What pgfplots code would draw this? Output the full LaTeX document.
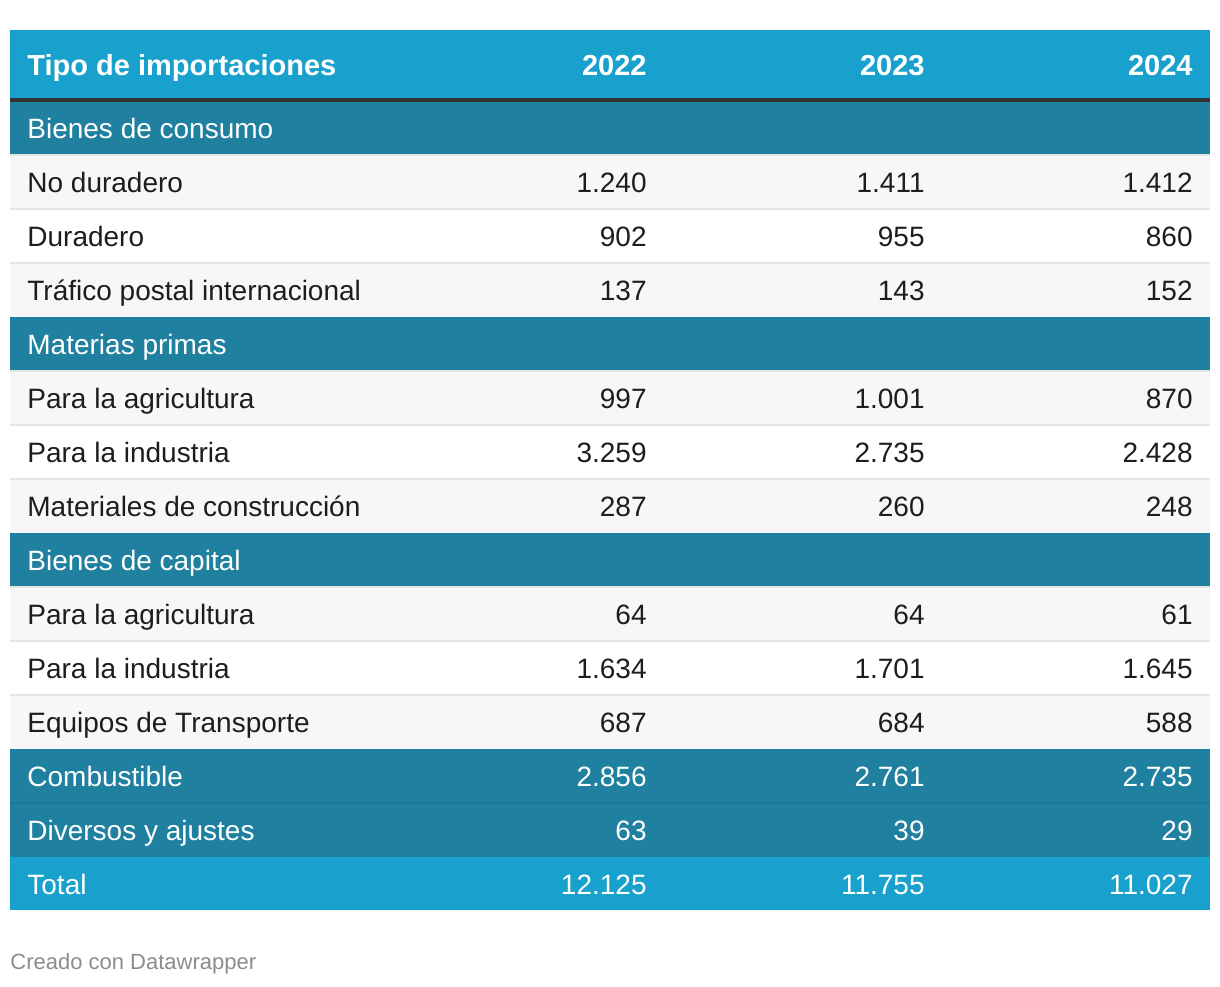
\documentclass[border=0pt]{standalone}
\usepackage{fontspec}
\setmainfont{Liberation Sans}
\usepackage{pgfplots}
\usepackage{pgfplotstable}
\pgfplotsset{compat=1.18}
\definecolor{hdr}{RGB}{25,161,205}
\definecolor{sec}{RGB}{31,128,159}
\definecolor{secline}{RGB}{27,117,147}
\definecolor{stripe}{RGB}{247,247,247}
\definecolor{sepl}{RGB}{228,228,228}
\definecolor{txt}{RGB}{29,29,29}
\definecolor{foot}{RGB}{140,140,140}
\definecolor{rule}{RGB}{51,51,51}

\pgfplotstableread[col sep=comma]{
row,label
1,No duradero
2,Duradero
3,Tráfico postal internacional
5,Para la agricultura
6,Para la industria
7,Materiales de construcción
9,Para la agricultura
10,Para la industria
11,Equipos de Transporte
}\darklabels

\pgfplotstableread[col sep=comma]{
row,label
0,Bienes de consumo
4,Materias primas
8,Bienes de capital
12,Combustible
13,Diversos y ajustes
14,Total
}\whitelabels

\pgfplotstableread[col sep=comma]{
row,v22,v23,v24
1,1240,1411,1412
2,902,955,860
3,137,143,152
5,997,1001,870
6,3259,2735,2428
7,287,260,248
9,64,64,61
10,1634,1701,1645
11,687,684,588
}\darkvals

\pgfplotstableread[col sep=comma]{
row,v22,v23,v24
12,2856,2761,2735
13,63,39,29
14,12125,11755,11027
}\whitevals

\pgfplotstableread[col sep=comma]{
x,label
647,2022
925,2023
1193,2024
}\years

\begin{document}
\begin{tikzpicture}
\begin{axis}[
  width=610pt, height=493pt, scale only axis,
  xmin=0, xmax=1220, ymin=0, ymax=986, y dir=reverse,
  hide axis, clip=false,
  /pgf/number format/1000 sep={.},
  /pgf/number format/fixed,
  /pgf/number format/precision=0,
  /pgf/number format/assume math mode=true,
]
% full canvas (for the bounding box)
\addplot[fill=white, draw=none] coordinates {(0,0) (1220,0) (1220,986) (0,986)} --cycle;
% header
\addplot[fill=hdr, draw=none] coordinates {(10,30) (1210,30) (1210,98) (10,98)} --cycle;
% section rows
\addplot[fill=sec, draw=none] coordinates {(10,101) (1210,101) (1210,155) (10,155)} --cycle;
\addplot[fill=sec, draw=none] coordinates {(10,317) (1210,317) (1210,371) (10,371)} --cycle;
\addplot[fill=sec, draw=none] coordinates {(10,533) (1210,533) (1210,587) (10,587)} --cycle;
\addplot[fill=sec, draw=none] coordinates {(10,749) (1210,749) (1210,857) (10,857)} --cycle;
\addplot[fill=hdr, draw=none] coordinates {(10,857) (1210,857) (1210,910) (10,910)} --cycle;
% striped rows
\addplot[fill=stripe, draw=none] coordinates {(10,155) (1210,155) (1210,209) (10,209)} --cycle;
\addplot[fill=stripe, draw=none] coordinates {(10,263) (1210,263) (1210,317) (10,317)} --cycle;
\addplot[fill=stripe, draw=none] coordinates {(10,371) (1210,371) (1210,425) (10,425)} --cycle;
\addplot[fill=stripe, draw=none] coordinates {(10,479) (1210,479) (1210,533) (10,533)} --cycle;
\addplot[fill=stripe, draw=none] coordinates {(10,587) (1210,587) (1210,641) (10,641)} --cycle;
\addplot[fill=stripe, draw=none] coordinates {(10,695) (1210,695) (1210,749) (10,749)} --cycle;
% separators
\pgfplotsinvokeforeach{155,209,263,371,425,479,587,641,695}{
  \addplot[draw=sepl, line width=1pt] coordinates {(10,#1) (1210,#1)};
}
\addplot[draw=secline, line width=1pt] coordinates {(10,803) (1210,803)};
% rule under header
\addplot[fill=rule, draw=none] coordinates {(10,98) (1210,98) (1210,102) (10,102)} --cycle;

% header text
\addplot[draw=none, mark=none, nodes near coords, point meta=explicit symbolic,
  every node near coord/.append style={anchor=base west, inner sep=0pt, text=white,
    font=\fontsize{14.5}{17}\selectfont\bfseries}]
  coordinates {(27,75) [Tipo de importaciones]};
\addplot[draw=none, mark=none, nodes near coords, point meta=explicit symbolic,
  every node near coord/.append style={anchor=base east, inner sep=0pt, text=white,
    font=\fontsize{14.5}{17}\selectfont\bfseries}]
  table[x=x, y expr=75, meta=label] {\years};

% row labels
\addplot[draw=none, mark=none, nodes near coords, point meta=explicit symbolic,
  every node near coord/.append style={anchor=base west, inner sep=0pt, text=txt,
    font=\fontsize{14}{17}\selectfont}]
  table[x expr=27, y expr=138+54*\thisrow{row}, meta=label] {\darklabels};
\addplot[draw=none, mark=none, nodes near coords, point meta=explicit symbolic,
  every node near coord/.append style={anchor=base west, inner sep=0pt, text=white,
    font=\fontsize{14}{17}\selectfont}]
  table[x expr=27, y expr=138+54*\thisrow{row}, meta=label] {\whitelabels};

% values
\addplot[draw=none, mark=none, nodes near coords, point meta=explicit,
  every node near coord/.append style={anchor=base east, inner sep=0pt, text=txt,
    font=\fontsize{14}{17}\selectfont}]
  table[x expr=647, y expr=138+54*\thisrow{row}, meta=v22] {\darkvals};
\addplot[draw=none, mark=none, nodes near coords, point meta=explicit,
  every node near coord/.append style={anchor=base east, inner sep=0pt, text=txt,
    font=\fontsize{14}{17}\selectfont}]
  table[x expr=925, y expr=138+54*\thisrow{row}, meta=v23] {\darkvals};
\addplot[draw=none, mark=none, nodes near coords, point meta=explicit,
  every node near coord/.append style={anchor=base east, inner sep=0pt, text=txt,
    font=\fontsize{14}{17}\selectfont}]
  table[x expr=1193, y expr=138+54*\thisrow{row}, meta=v24] {\darkvals};
\addplot[draw=none, mark=none, nodes near coords, point meta=explicit,
  every node near coord/.append style={anchor=base east, inner sep=0pt, text=white,
    font=\fontsize{14}{17}\selectfont}]
  table[x expr=647, y expr=138+54*\thisrow{row}, meta=v22] {\whitevals};
\addplot[draw=none, mark=none, nodes near coords, point meta=explicit,
  every node near coord/.append style={anchor=base east, inner sep=0pt, text=white,
    font=\fontsize{14}{17}\selectfont}]
  table[x expr=925, y expr=138+54*\thisrow{row}, meta=v23] {\whitevals};
\addplot[draw=none, mark=none, nodes near coords, point meta=explicit,
  every node near coord/.append style={anchor=base east, inner sep=0pt, text=white,
    font=\fontsize{14}{17}\selectfont}]
  table[x expr=1193, y expr=138+54*\thisrow{row}, meta=v24] {\whitevals};

% footer
\addplot[draw=none, mark=none, nodes near coords, point meta=explicit symbolic,
  every node near coord/.append style={anchor=base west, inner sep=0pt, text=foot,
    font=\fontsize{11}{13}\selectfont}]
  coordinates {(10,969) [Creado con Datawrapper]};
\end{axis}
\end{tikzpicture}
\end{document}
